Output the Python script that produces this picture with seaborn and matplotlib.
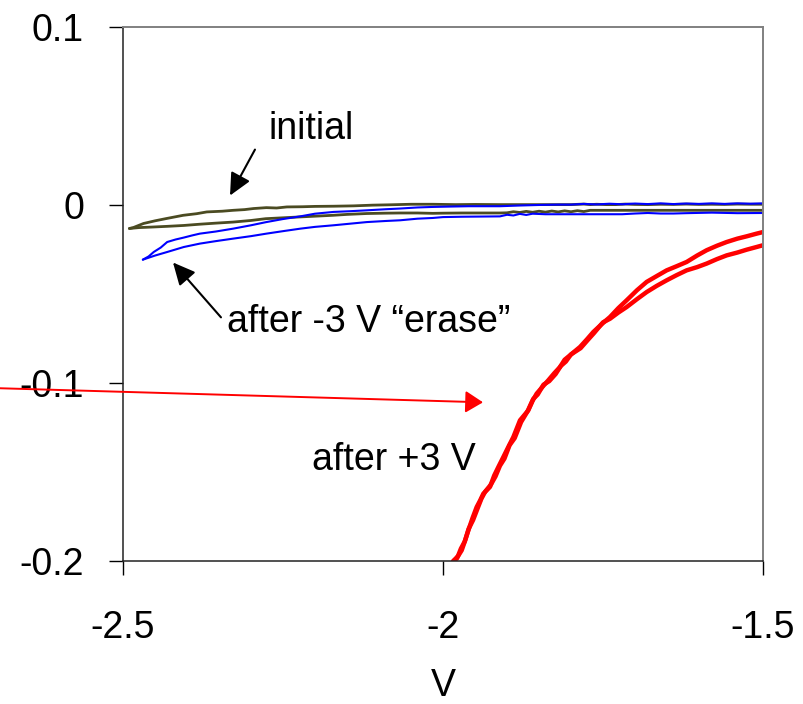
import matplotlib
matplotlib.use("Agg")
import matplotlib.pyplot as plt
import seaborn as sns
import pandas as pd

# ---- data ----
initial_up_x = [-2.490, -2.484, -2.468, -2.450, -2.432, -2.406, -2.385, -2.369, -2.345, -2.328, -2.310, -2.296,
                -2.276, -2.260, -2.244, -2.220, -2.200, -2.171, -2.140, -2.110, -2.083, -2.050, -2.016, -1.980,
                -1.950, -1.911, -1.880, -1.850, -1.820, -1.800, -1.780, -1.770, -1.760, -1.745, -1.730, -1.715,
                -1.700, -1.680, -1.660, -1.640, -1.620, -1.600, -1.580, -1.560, -1.540, -1.520, -1.500]
initial_up_y = [-0.0133, -0.0128, -0.0105, -0.0090, -0.0077, -0.0059, -0.0050, -0.0040, -0.0036, -0.0031, -0.0027, -0.0021,
                -0.0016, -0.0018, -0.0012, -0.0011, -0.0009, -0.0008, -0.0006, -0.0002, 0.0000, 0.0003, 0.0003, 0.0001,
                0.0002, 0.0001, 0.0001, 0.0001, 0.0001, 0.0001, 0.0004, 0.0001, 0.0003, 0.0001, 0.0001, 0.0004,
                0.0002, 0.0001, 0.0003, 0.0002, 0.0004, 0.0002, 0.0003, 0.0002, 0.0004, 0.0003, 0.0003]
initial_dn_x = [-1.500, -1.560, -1.620, -1.680, -1.740, -1.770, -1.780, -1.790, -1.800, -1.810, -1.820, -1.830,
                -1.840, -1.850, -1.860, -1.870, -1.880, -1.890, -1.900, -1.911, -1.940, -1.970, -2.000, -2.016,
                -2.040, -2.067, -2.090, -2.119, -2.150, -2.172, -2.200, -2.223, -2.250, -2.277, -2.300, -2.328,
                -2.355, -2.380, -2.405, -2.431, -2.455, -2.475, -2.490]
initial_dn_y = [-0.0031, -0.0031, -0.0031, -0.0031, -0.0031, -0.0031, -0.0038, -0.0033, -0.0039, -0.0034, -0.0040, -0.0035,
                -0.0041, -0.0036, -0.0042, -0.0037, -0.0043, -0.0039, -0.0045, -0.0046, -0.0046, -0.0046, -0.0047, -0.0048,
                -0.0046, -0.0046, -0.0047, -0.0049, -0.0054, -0.0059, -0.0064, -0.0068, -0.0073, -0.0078, -0.0088, -0.0097,
                -0.0103, -0.0109, -0.0116, -0.0121, -0.0125, -0.0128, -0.0133]

erase_up_x = [-2.469, -2.460, -2.452, -2.441, -2.431, -2.418, -2.405, -2.392, -2.380, -2.355, -2.328, -2.300,
              -2.276, -2.250, -2.223, -2.200, -2.171, -2.145, -2.119, -2.090, -2.067, -2.040, -2.016, -1.990,
              -1.960, -1.930, -1.911, -1.880, -1.850, -1.820, -1.800, -1.780, -1.760, -1.740, -1.720, -1.700,
              -1.680, -1.660, -1.640, -1.620, -1.600, -1.580, -1.560, -1.540, -1.520, -1.500]
erase_up_y = [-0.0308, -0.0290, -0.0265, -0.0240, -0.0209, -0.0195, -0.0184, -0.0172, -0.0162, -0.0150, -0.0134, -0.0115,
              -0.0097, -0.0080, -0.0065, -0.0050, -0.0040, -0.0036, -0.0031, -0.0025, -0.0021, -0.0015, -0.0012, -0.0010,
              -0.0008, -0.0008, -0.0008, -0.0004, -0.0001, 0.0001, 0.0001, 0.0005, 0.0002, 0.0006, 0.0003, 0.0007,
              0.0004, 0.0008, 0.0004, 0.0007, 0.0005, 0.0008, 0.0005, 0.0008, 0.0006, 0.0008]
erase_dn_x = [-1.500, -1.540, -1.580, -1.620, -1.640, -1.660, -1.680, -1.700, -1.720, -1.750, -1.780, -1.810,
              -1.840, -1.860, -1.870, -1.880, -1.890, -1.900, -1.911, -1.940, -1.970, -2.000, -2.016, -2.040,
              -2.067, -2.090, -2.119, -2.145, -2.171, -2.200, -2.223, -2.250, -2.276, -2.300, -2.328, -2.355,
              -2.380, -2.405, -2.431, -2.450, -2.469]
erase_dn_y = [-0.0046, -0.0047, -0.0044, -0.0047, -0.0049, -0.0049, -0.0046, -0.0049, -0.0053, -0.0053, -0.0053, -0.0053,
              -0.0053, -0.0050, -0.0057, -0.0051, -0.0060, -0.0056, -0.0065, -0.0066, -0.0067, -0.0069, -0.0074, -0.0078,
              -0.0087, -0.0091, -0.0097, -0.0106, -0.0115, -0.0124, -0.0134, -0.0148, -0.0162, -0.0176, -0.0190, -0.0204,
              -0.0218, -0.0237, -0.0265, -0.0285, -0.0308]

write_a_x = [-1.9839, -1.9760, -1.9708, -1.9650, -1.9604, -1.9540, -1.9474, -1.9420, -1.9370, -1.9266, -1.9200, -1.9135,
             -1.9057, -1.8980, -1.8901, -1.8797, -1.8667, -1.8600, -1.8536, -1.8440, -1.8354, -1.8260, -1.8172, -1.8100,
             -1.8016, -1.7859, -1.7750, -1.7651, -1.7520, -1.7391, -1.7260, -1.7130, -1.6970, -1.6818, -1.6660, -1.6505,
             -1.6350, -1.6193, -1.6030, -1.5880, -1.5720, -1.5568, -1.5400, -1.5255, -1.5100, -1.5000]
write_a_y = [-0.2000, -0.1970, -0.1940, -0.1880, -0.1828, -0.1760, -0.1697, -0.1660, -0.1622, -0.1584, -0.1520, -0.1472,
             -0.1416, -0.1360, -0.1304, -0.1210, -0.1154, -0.1100, -0.1060, -0.1020, -0.0985, -0.0945, -0.0911, -0.0870,
             -0.0845, -0.0798, -0.0755, -0.0714, -0.0670, -0.0630, -0.0580, -0.0536, -0.0480, -0.0433, -0.0400, -0.0368,
             -0.0345, -0.0321, -0.0285, -0.0255, -0.0230, -0.0209, -0.0190, -0.0177, -0.0162, -0.0153]
write_b_x = [-1.9839, -1.9780, -1.9720, -1.9660, -1.9600, -1.9530, -1.9460, -1.9400, -1.9340, -1.9250, -1.9180, -1.9110,
             -1.9040, -1.8960, -1.8880, -1.8780, -1.8680, -1.8590, -1.8520, -1.8430, -1.8340, -1.8240, -1.8160, -1.8080,
             -1.8000, -1.7850, -1.7740, -1.7640, -1.7500, -1.7391, -1.7260, -1.7130, -1.6970, -1.6818, -1.6660, -1.6505,
             -1.6350, -1.6193, -1.6030, -1.5880, -1.5720, -1.5568, -1.5400, -1.5255, -1.5100, -1.5000]
write_b_y = [-0.2000, -0.1985, -0.1930, -0.1890, -0.1820, -0.1770, -0.1705, -0.1650, -0.1610, -0.1570, -0.1525, -0.1465,
             -0.1425, -0.1350, -0.1310, -0.1220, -0.1160, -0.1090, -0.1065, -0.1010, -0.0990, -0.0950, -0.0905, -0.0880,
             -0.0840, -0.0805, -0.0760, -0.0720, -0.0660, -0.0640, -0.0605, -0.0574, -0.0530, -0.0490, -0.0455, -0.0424,
             -0.0395, -0.0368, -0.0350, -0.0330, -0.0305, -0.0284, -0.0268, -0.0252, -0.0237, -0.0227]

x_ticks = [-2.5, -2.0, -1.5]
x_tick_labels = ["-2.5", "-2", "-1.5"]
y_ticks = [-0.2, -0.1, 0.0, 0.1]
y_tick_labels = ["-0.2", "-0.1", "0", "0.1"]
x_label = "V"

# ---- styling ----
sns.set_style("ticks")
plt.rcParams["font.family"] = ["Liberation Sans", "DejaVu Sans"]
plt.rcParams["font.size"] = 27
plt.rcParams["text.color"] = "black"
plt.rcParams["axes.labelcolor"] = "black"
plt.rcParams["xtick.color"] = "black"
plt.rcParams["ytick.color"] = "black"

fig = plt.figure(figsize=(8.04, 7.04), dpi=100)
ax = fig.add_axes([0.1530, 0.2031, 0.7960, 0.7590])

OLIVE = "#4b4b22"
BLUE = "#0000ff"
RED = "#ff0000"

curves = [
    (initial_up_x, initial_up_y, OLIVE, 2.0),
    (initial_dn_x, initial_dn_y, OLIVE, 2.0),
    (erase_up_x, erase_up_y, BLUE, 1.5),
    (erase_dn_x, erase_dn_y, BLUE, 1.5),
    (write_a_x, write_a_y, RED, 3.2),
    (write_b_x, write_b_y, RED, 3.2),
]
for xs, ys, col, lw in curves:
    df = pd.DataFrame({"V": xs, "I": ys})
    sns.lineplot(data=df, x="V", y="I", sort=False, estimator=None, color=col,
                 linewidth=lw, ax=ax, legend=False)

ax.set_xlim(-2.5, -1.5)
ax.set_ylim(-0.2, 0.1)
ax.set_xticks(x_ticks)
ax.set_xticklabels(x_tick_labels)
ax.set_yticks(y_ticks)
ax.set_yticklabels(y_tick_labels)
ax.set_xlabel(x_label, fontsize=27, labelpad=16, color="black")
ax.set_ylabel("")

ax.tick_params(axis="both", direction="out", length=10, width=1.0, color="black",
               labelsize=27, labelcolor="black")
ax.tick_params(axis="x", pad=25)
ax.tick_params(axis="y", pad=18)

for side in ["left", "bottom"]:
    ax.spines[side].set_color("#222222")
    ax.spines[side].set_linewidth(1.1)
for side in ["top", "right"]:
    ax.spines[side].set_visible(True)
    ax.spines[side].set_color("#808080")
    ax.spines[side].set_linewidth(1.4)

# ---- annotations ----
ax.text(-2.2734, 0.0372, "initial", fontsize=27, ha="left", va="baseline", color="black")
ax.text(-2.3375, -0.0716, "after -3 V \u201cerase\u201d", fontsize=27, ha="left", va="baseline", color="black")
ax.text(-2.2047, -0.1490, "after +3 V", fontsize=27, ha="left", va="baseline", color="black")

blk = dict(arrowstyle="-|>,head_length=0.5,head_width=0.24", color="black", lw=1.5,
           mutation_scale=27, shrinkA=0, shrinkB=0)
ax.annotate("", xy=(-2.3328, 0.0052), xytext=(-2.2938, 0.0310), arrowprops=blk)
ax.annotate("", xy=(-2.4219, -0.0324), xytext=(-2.3469, -0.0632), arrowprops=blk)
red_arrow = ax.annotate("", xy=(-1.9375, -0.1109), xytext=(-2.6922, -0.1030),
                        annotation_clip=False,
                        arrowprops=dict(arrowstyle="-|>,head_length=0.45,head_width=0.28",
                                        color=RED, lw=1.4, mutation_scale=24,
                                        shrinkA=0, shrinkB=0))
red_arrow.arrow_patch.set_clip_on(False)

fig.savefig("out.png", dpi=100)
